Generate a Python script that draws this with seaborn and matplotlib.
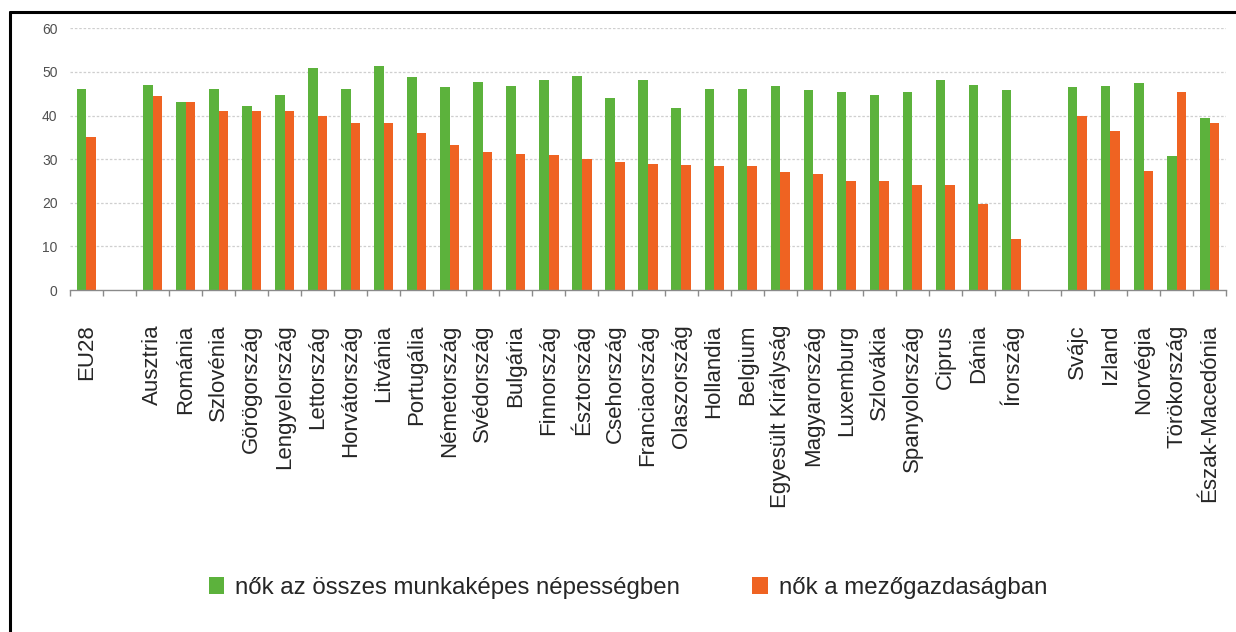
import numpy as np
import pandas as pd
import seaborn as sns
import matplotlib.pyplot as plt
from matplotlib.lines import Line2D
from matplotlib.patches import Patch

# categories (blank slots separate the groups)
countries = ['EU28', ' ', 'Ausztria', 'Románia', 'Szlovénia', 'Görögország', 'Lengyelország',
             'Lettország', 'Horvátország', 'Litvánia', 'Portugália', 'Németország',
             'Svédország', 'Bulgária', 'Finnország', 'Észtország', 'Csehország',
             'Franciaország', 'Olaszország', 'Hollandia', 'Belgium', 'Egyesült Királyság',
             'Magyarország', 'Luxemburg', 'Szlovákia', 'Spanyolország', 'Ciprus', 'Dánia',
             'Írország', '  ', 'Svájc', 'Izland', 'Norvégia', 'Törökország', 'Észak-Macedónia']

total_pop = [46.0, np.nan, 47.0, 43.0, 46.2, 42.1, 44.8, 51.0, 46.0, 51.4, 48.8, 46.5,
             47.8, 46.8, 48.2, 49.0, 44.0, 48.2, 41.8, 46.2, 46.2, 46.8, 45.8, 45.3,
             44.8, 45.5, 48.2, 47.0, 45.8, np.nan, 46.5, 46.8, 47.5, 30.7, 39.4]

agriculture = [35.1, np.nan, 44.5, 43.0, 41.1, 41.1, 41.1, 39.9, 38.4, 38.4, 35.9, 33.2,
               31.6, 31.2, 30.9, 30.0, 29.4, 29.0, 28.7, 28.4, 28.4, 27.0, 26.7, 25.0,
               25.0, 24.0, 24.0, 19.8, 11.7, np.nan, 40.0, 36.4, 27.4, 45.5, 38.4]

series_names = ['nők az összes munkaképes népességben', 'nők a mezőgazdaságban']
colors = ['#5cb23c', '#ef6322']

df = pd.DataFrame({'country': countries, series_names[0]: total_pop, series_names[1]: agriculture})
long_df = df.melt(id_vars='country', var_name='series', value_name='value').dropna()

sns.set_style('white')
plt.rcParams['font.family'] = ['Liberation Sans', 'DejaVu Sans']

fig = plt.figure(figsize=(12.36, 6.32), dpi=100)
ax = fig.add_axes([0.0566, 0.5411, 0.9354, 0.4141])

sns.barplot(data=long_df, x='country', y='value', hue='series', order=countries,
            hue_order=series_names, palette=colors, width=0.58, saturation=1,
            linewidth=0, ax=ax, legend=False)

ax.set_xlim(-0.5, len(countries) - 0.5)
ax.set_ylim(0, 60)
ax.set_yticks(range(0, 61, 10))
ax.set_xlabel('')
ax.set_ylabel('')

# dotted gridlines
for y in range(10, 61, 10):
    ax.axhline(y, color='#cfcfcf', lw=0.9, ls=(0, (2, 1.5)), zorder=0)
ax.set_axisbelow(True)

for side in ['top', 'right', 'left']:
    ax.spines[side].set_visible(False)
ax.spines['bottom'].set_color('#8a8a8a')
ax.spines['bottom'].set_linewidth(1.0)

ax.tick_params(axis='y', length=0, pad=9, labelsize=10, labelcolor='#505050')
ax.set_xticks(range(len(countries)))
ax.set_xticklabels(countries, rotation=90, fontsize=16)
ax.tick_params(axis='x', which='major', length=0, pad=25)
ax.set_xticks(np.arange(-0.5, len(countries)), minor=True)
ax.tick_params(axis='x', which='minor', bottom=True, length=4, color='#8a8a8a', width=1)

handles = [Patch(facecolor=c, edgecolor='none') for c in colors]
fig.legend(handles, series_names, loc='center', bbox_to_anchor=(0.508, 0.07), ncol=2,
           frameon=False, fontsize=17.3, handlelength=0.65, handleheight=0.7,
           handletextpad=0.45, columnspacing=3.0)

# frame lines (left and top only)
fig.add_artist(Line2D([10 / 1236, 10 / 1236], [0, 1 - 12 / 632], color='black', lw=2.2,
                      transform=fig.transFigure))
fig.add_artist(Line2D([10 / 1236, 1], [1 - 12 / 632, 1 - 12 / 632], color='black', lw=2.2,
                      transform=fig.transFigure))

plt.savefig('out.png', dpi=100)
